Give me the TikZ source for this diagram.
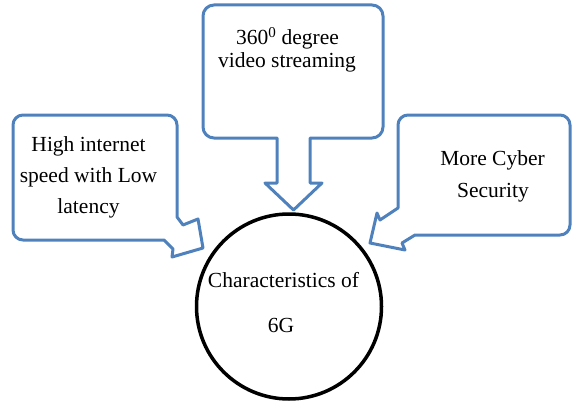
\documentclass[tikz,border=0pt]{standalone}
\usepackage{fontspec}
\setmainfont{Liberation Serif}
\definecolor{calloutblue}{RGB}{79,129,189}
\begin{document}
\begin{tikzpicture}[x=1pt,y=-1pt,
  callout/.style={draw=calloutblue, line width=3pt, line join=round},
  lbl/.style={font=\fontsize{21.5}{26}\selectfont, anchor=base, inner sep=0pt},
  hub/.style={draw=black, circle, line width=3.5pt, minimum size=185pt, inner sep=0pt},
]
\useasboundingbox (0,0) rectangle (572,401);
% left callout
\draw[callout] (95,115) [rounded corners=10pt] -- (177,115) -- (177,160) [sharp corners] -- (177,217)
  -- (183,225) -- (198,219) -- (203,248) -- (172,257) -- (173,249) -- (164,240) -- (100,240)
  [rounded corners=10pt] -- (13,240) -- (13,115) -- cycle;
% top callout
\draw[callout] (293,5) [rounded corners=11pt] -- (383,5) -- (383,138) -- (340,138) [sharp corners]
  -- (310,138) -- (310,183) -- (322,183) -- (293.5,210) -- (265,183) -- (277,183) -- (277,138)
  -- (240,138) [rounded corners=11pt] -- (203,138) -- (203,5) -- cycle;
% right callout
\draw[callout] (480,115) [rounded corners=10pt] -- (570,115) -- (570,235) -- (450,235) [sharp corners]
  -- (415,235) -- (402,243) -- (405,250) -- (370,243) -- (377,213) -- (380,220) -- (398,208)
  -- (398,170) [rounded corners=10pt] -- (398,115) -- cycle;
% hub
\node[hub] (hub) at (289,306.5) {};
% texts
\node[lbl] (l1) at (88.5,151.5) {High internet};
\node[lbl] (l2) at (88.5,182) {speed with Low};
\node[lbl] (l3) at (88.5,213) {latency};
\node[lbl] (t1) at (287.5,45) {360\textsuperscript{0} degree};
\node[lbl] (t2) at (287,68) {video streaming};
\node[lbl] (r1) at (492.5,165) {More Cyber};
\node[lbl] (r2) at (493,197) {Security};
\node[lbl] (c1) at (283.5,287) {Characteristics of};
\node[lbl] (c2) at (281,332) {6G};
\end{tikzpicture}
\end{document}
